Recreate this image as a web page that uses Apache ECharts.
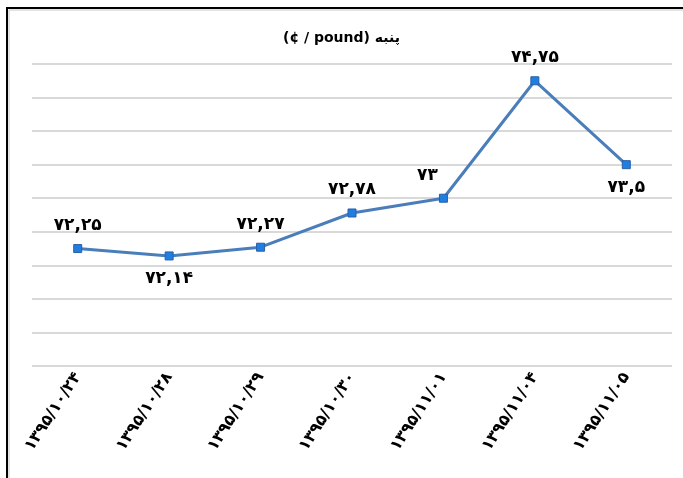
<!DOCTYPE html>
<html>
<head>
<meta charset="utf-8">
<script src="https://cdn.jsdelivr.net/npm/echarts@6/dist/echarts.min.js"></script>
<style>
html, body { margin: 0; padding: 0; background: #fff; }
#chart { width: 683px; height: 478px; }
</style>
</head>
<body>
<div id="chart"></div>
<script>
var dates = ['۱۳۹۵/۱۰/۲۴', '۱۳۹۵/۱۰/۲۸', '۱۳۹۵/۱۰/۲۹', '۱۳۹۵/۱۰/۳۰', '۱۳۹۵/۱۱/۰۱', '۱۳۹۵/۱۱/۰۴', '۱۳۹۵/۱۱/۰۵'];
var prices = [72.25, 72.14, 72.27, 72.78, 73, 74.75, 73.5];
var labelSide = ['top', 'bottom', 'top', 'top', 'top', 'top', 'bottom'];

// persian digits + comma for point labels
function fa(v) {
	var d = '۰۱۲۳۴۵۶۷۸۹';
	return String(v).replace('.', ',').replace(/[0-9]/g, function(c) { return d[+c]; });
}

var myChart = echarts.init(document.getElementById('chart'));

var points = prices.map(function(v, i) {
	return {
		value: v,
		label: {
			position: labelSide[i],
			offset: i === 4 ? [-16, 0] : [0, 0]
		}
	};
});

var option = {
	animation: false,
	title: {
		text: '(¢ / pound) پنبه',
		left: 'center',
		top: 26,
		textStyle: { fontFamily: 'DejaVu Sans', fontWeight: 'bold', fontSize: 14, color: '#000' }
	},
	grid: { left: 32, right: 11, top: 64, bottom: 112 },
	xAxis: {
		type: 'category',
		data: dates,
		boundaryGap: true,
		axisLine: { show: false },
		axisTick: { show: false },
		axisLabel: {
			rotate: 57,
			margin: 8,
			interval: 0,
			fontFamily: 'DejaVu Sans',
			fontWeight: 'bold',
			fontSize: 16,
			color: '#000'
		}
	},
	yAxis: {
		type: 'value',
		min: 70.5,
		max: 75,
		interval: 0.5,
		axisLabel: { show: false },
		axisLine: { show: false },
		axisTick: { show: false },
		splitLine: { lineStyle: { color: '#d9d9d9', width: 2 } }
	},
	series: [{
		type: 'line',
		data: points,
		symbol: 'rect',
		symbolSize: 8,
		itemStyle: { color: '#1f7fe0', borderColor: '#2a5fa8', borderWidth: 1 },
		lineStyle: { color: '#4a7ebb', width: 3 },
		label: {
			show: true,
			distance: 10,
			formatter: function(p) { return fa(p.value); },
			fontFamily: 'DejaVu Sans',
			fontWeight: 'bold',
			fontSize: 17,
			color: '#000'
		}
	}],
	graphic: [{
		type: 'rect',
		shape: { x: 7, y: 8, width: 700, height: 500 },
		style: { fill: null, stroke: '#000', lineWidth: 2 }
	}, {
		type: 'rect',
		shape: { x: 9, y: 10, width: 700, height: 500 },
		style: { fill: null, stroke: '#c8c8c8', lineWidth: 1 }
	}]
};

myChart.setOption(option);
window.addEventListener('resize', function() {
	myChart.resize();
});
</script>
</body>
</html>
